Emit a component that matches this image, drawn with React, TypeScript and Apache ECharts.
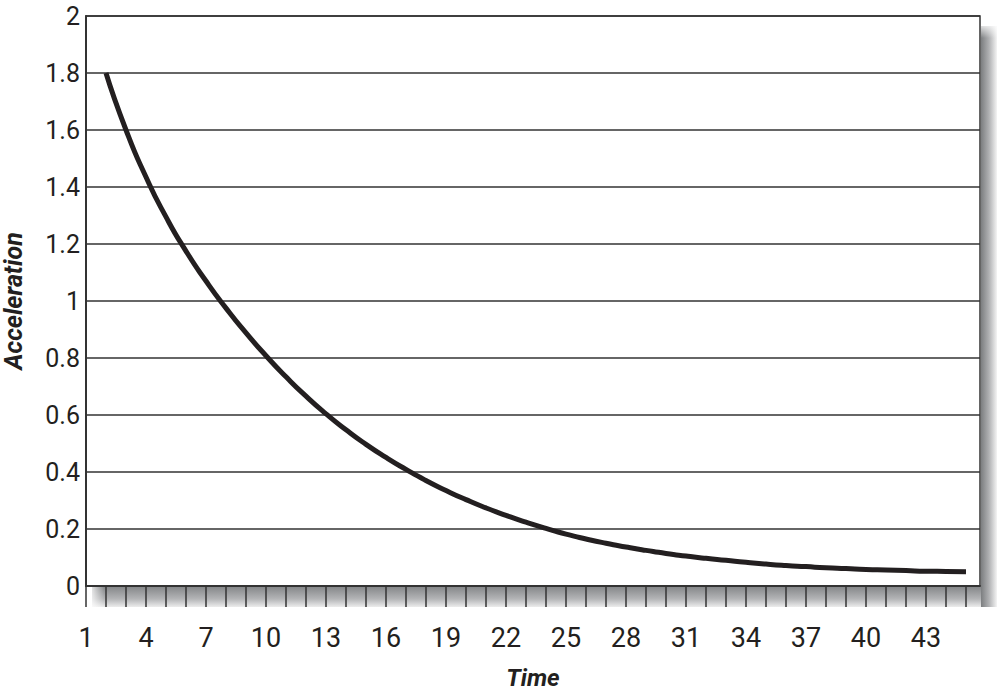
import React, { useEffect, useRef } from "react";
import * as echarts from "echarts";

const times: number[] = [
  2, 3, 4, 5, 6, 7, 8, 9, 10, 11, 12, 13, 14, 15, 16, 17, 18, 19, 20, 21, 22, 23,
  24, 25, 26, 27, 28, 29, 30, 31, 32, 33, 34, 35, 36, 37, 38, 39, 40, 41, 42, 43, 44, 45,
];
const acceleration: number[] = [
  1.8, 1.6, 1.435, 1.295, 1.175, 1.07, 0.975, 0.888, 0.808, 0.734, 0.666, 0.604, 0.548,
  0.497, 0.451, 0.409, 0.37, 0.335, 0.303, 0.274, 0.248, 0.224, 0.202, 0.182, 0.165,
  0.15, 0.137, 0.125, 0.114, 0.105, 0.097, 0.09, 0.083, 0.077, 0.072, 0.068, 0.064,
  0.061, 0.058, 0.056, 0.054, 0.052, 0.051, 0.05,
];
const xLabelStart = 1;
const xLabelStep = 3;
const xTitle = "Time";
const yTitle = "Acceleration";

const INK = "#231f20";
const FONT = "Roboto, 'Liberation Sans', sans-serif";

export default function App() {
  const ref = useRef<HTMLDivElement>(null);
  useEffect(() => {
    if (!ref.current) return;
    const chart = echarts.init(ref.current, null, { renderer: "svg" });
    const data = times.map((t, i) => [t, acceleration[i]]);
    chart.setOption({
      animation: false,
      backgroundColor: "#ffffff",
      textStyle: { fontFamily: FONT, color: INK },
      grid: {
        left: 86,
        top: 16,
        right: 20,
        bottom: 111,
        containLabel: false,
        outerBoundsMode: "none",
        show: true,
        borderColor: "#333333",
        borderWidth: 1.5,
        backgroundColor: "transparent",
      },
      graphic: {
        elements: [
          {
            type: "rect",
            z: -2,
            shape: { x: 92, y: 587, width: 904, height: 20 },
            style: {
              fill: new echarts.graphic.LinearGradient(0, 0, 0, 1, [
                { offset: 0, color: "#86888a" },
                { offset: 0.6, color: "#b4b5b7" },
                { offset: 1, color: "#ececec" },
              ]),
            },
          },
          {
            type: "rect",
            z: -1,
            shape: { x: 88, y: 587, width: 16, height: 20 },
            style: {
              fill: new echarts.graphic.LinearGradient(0, 0, 1, 0, [
                { offset: 0, color: "rgba(255,255,255,1)" },
                { offset: 1, color: "rgba(255,255,255,0)" },
              ]),
            },
          },
          {
            type: "rect",
            z: -2,
            shape: { x: 981, y: 26, width: 16, height: 581 },
            style: {
              fill: new echarts.graphic.LinearGradient(0, 0, 1, 0, [
                { offset: 0, color: "#7c7e80" },
                { offset: 0.5, color: "#b0b1b3" },
                { offset: 1, color: "#f4f4f4" },
              ]),
            },
          },
          {
            type: "rect",
            z: -1,
            shape: { x: 981, y: 22, width: 16, height: 16 },
            style: {
              fill: new echarts.graphic.LinearGradient(0, 0, 0, 1, [
                { offset: 0, color: "rgba(255,255,255,1)" },
                { offset: 1, color: "rgba(255,255,255,0)" },
              ]),
            },
          },
        ],
      },
      xAxis: {
        type: "value",
        min: 1,
        max: 45.7,
        interval: 1,
        name: xTitle,
        nameLocation: "middle",
        nameGap: 80,
        nameTextStyle: {
          fontFamily: FONT,
          fontSize: 24,
          fontWeight: "bold",
          fontStyle: "italic",
          color: INK,
        },
        axisLine: { show: true, onZero: false, lineStyle: { color: "#333333", width: 2 } },
        axisTick: { show: true, inside: false, length: 21, lineStyle: { color: "#333333", width: 1.5 } },
        splitLine: { show: false },
        axisLabel: {
          show: true,
          margin: 38,
          fontFamily: FONT,
          fontSize: 27,
          color: INK,
          showMaxLabel: false,
          formatter: (v: number) =>
            Number.isInteger(v) && (v - xLabelStart) % xLabelStep === 0 ? String(v) : "",
        },
      },
      yAxis: {
        type: "value",
        min: 0,
        max: 2,
        interval: 0.2,
        name: yTitle,
        nameLocation: "middle",
        nameGap: 60,
        nameTextStyle: {
          fontFamily: FONT,
          fontSize: 25,
          fontWeight: "bold",
          fontStyle: "italic",
          color: INK,
        },
        axisLine: { show: true, lineStyle: { color: "#333333", width: 2 } },
        axisTick: { show: false },
        splitLine: { show: true, lineStyle: { color: "#333333", width: 1.5 } },
        axisLabel: {
          margin: 6,
          fontFamily: FONT,
          fontSize: 25,
          color: INK,
          formatter: (v: number) => String(Math.round(v * 10) / 10),
        },
      },
      series: [
        {
          type: "line",
          data,
          smooth: 0.6,
          symbol: "none",
          lineStyle: { color: INK, width: 5, cap: "butt" },
          z: 5,
        },
      ],
    });
    return () => chart.dispose();
  }, []);
  return (
    <div
      ref={ref}
      style={{ position: "fixed", left: 0, top: 0, width: 1000, height: 697 }}
    />
  );
}
